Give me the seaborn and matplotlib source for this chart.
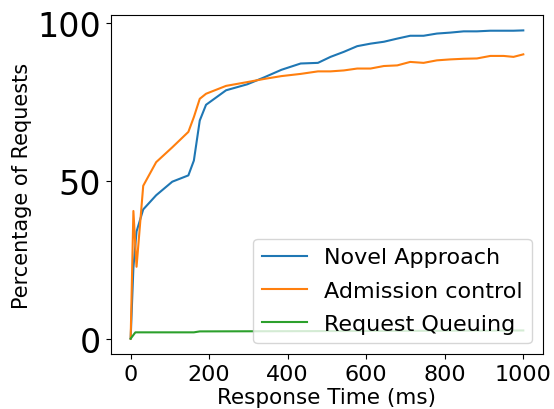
import pandas as pd
import seaborn as sns
import matplotlib
matplotlib.use("Agg")
import matplotlib.pyplot as plt

# response time samples (ms) shared by the two main curves
time_ms = [0, 7, 15, 32, 65, 106, 147, 161, 176, 192, 243, 297, 340, 384, 433, 477,
           509, 543, 577, 611, 645, 679, 712, 746, 780, 814, 848, 882, 916, 950, 975, 1000]
novel = [0, 22.5, 34, 41, 45.5, 49.8, 51.8, 56.5, 69.2, 74.2, 78.8, 80.7, 82.9, 85.3, 87.3, 87.5,
         89.4, 91.0, 92.8, 93.6, 94.2, 95.2, 96.1, 96.1, 96.8, 97.1, 97.5, 97.5, 97.7, 97.7, 97.7, 97.8]
admission = [0, 40.5, 22.8, 48.5, 56, 60.7, 65.6, 70.3, 76.1, 77.7, 80.2, 81.4, 82.4, 83.3, 84.0, 84.8,
             84.8, 85.1, 85.7, 85.7, 86.5, 86.7, 87.8, 87.5, 88.3, 88.6, 88.8, 88.9, 89.7, 89.7, 89.4, 90.2]

queue_ms = [0, 12, 161, 176, 500, 1000]
queuing = [0, 2.0, 2.0, 2.3, 2.4, 2.6]

series = ["Novel Approach", "Admission control", "Request Queuing"]

df = pd.concat([
    pd.DataFrame({"t": time_ms, "pct": novel, "method": series[0]}),
    pd.DataFrame({"t": time_ms, "pct": admission, "method": series[1]}),
    pd.DataFrame({"t": queue_ms, "pct": queuing, "method": series[2]}),
], ignore_index=True)

fig = plt.figure(figsize=(5.54, 4.10), dpi=100)
ax = fig.add_axes([0.2004, 0.134, 0.7796, 0.827])

sns.lineplot(data=df, x="t", y="pct", hue="method", hue_order=series,
             palette=["#1f77b4", "#ff7f0e", "#2ca02c"], sort=False,
             estimator=None, linewidth=1.5, ax=ax)

ax.set_xlabel("Response Time (ms)", fontsize=15.5, labelpad=2)
ax.set_ylabel("Percentage of Requests", fontsize=15)
ax.set_xticks([0, 200, 400, 600, 800, 1000])
ax.set_yticks([0, 50, 100])
ax.tick_params(axis="x", labelsize=16)
ax.tick_params(axis="y", labelsize=24)
ax.legend(loc="lower right", fontsize=16, labelspacing=0.6)

fig.savefig("out.png", dpi=100)
